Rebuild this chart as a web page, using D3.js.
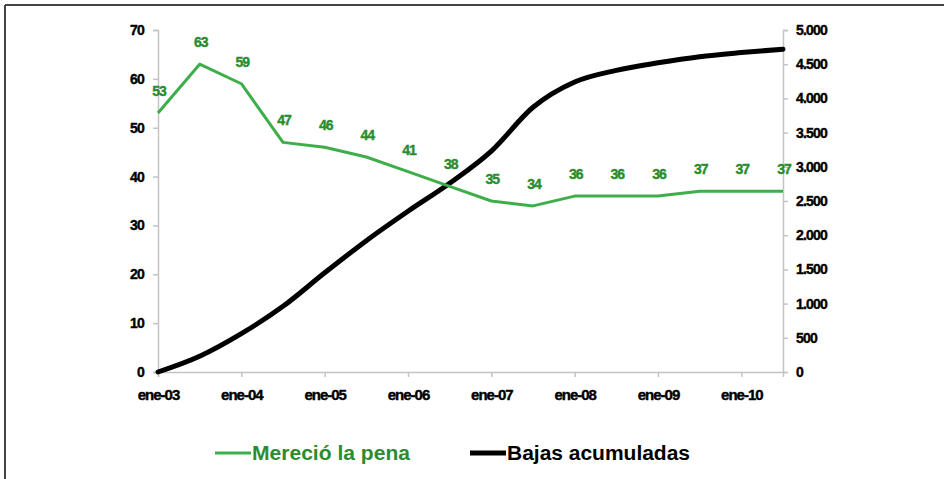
<!DOCTYPE html>
<html>
<head>
<meta charset="utf-8">
<script src="https://cdn.jsdelivr.net/npm/d3@7"></script>
<style>
  body { margin: 0; background: #fff; }
  #chart { width: 944px; height: 479px; }
  text { font-family: "Liberation Sans", Arial, sans-serif; font-weight: bold; }
</style>
</head>
<body>
<div id="chart"></div>
<script>
// half-yearly periods, ene-03 .. jul-10
const periods = ["ene-03", "jul-03", "ene-04", "jul-04", "ene-05", "jul-05", "ene-06", "jul-06",
  "ene-07", "jul-07", "ene-08", "jul-08", "ene-09", "jul-09", "ene-10", "jul-10"];
const merecio = [53, 63, 59, 47, 46, 44, 41, 38, 35, 34, 36, 36, 36, 37, 37, 37];
const bajas = [0, 230, 560, 960, 1450, 1920, 2350, 2760, 3230, 3870, 4240, 4410, 4520, 4610, 4670, 4720];
const leftTicks = [0, 10, 20, 30, 40, 50, 60, 70];
const rightTicks = [0, 500, 1000, 1500, 2000, 2500, 3000, 3500, 4000, 4500, 5000];
const legendLabels = ["Mereció la pena", "Bajas acumuladas"];

const width = 944, height = 479;
const margin = { left: 158, right: 161, top: 30, bottom: 107 };
const green = "#3dae49", greenText = "#2b8c2f", axisGrey = "#c4c4c4";

const svg = d3.select("#chart").append("svg")
  .attr("width", width).attr("height", height);

// frame (top + left only)
svg.append("line").attr("x1", 5).attr("x2", width).attr("y1", 5).attr("y2", 5)
  .attr("stroke", "#444").attr("stroke-width", 2);
svg.append("line").attr("x1", 5).attr("x2", 5).attr("y1", 5).attr("y2", height)
  .attr("stroke", "#444").attr("stroke-width", 2);

const x = d3.scaleLinear().domain([0, periods.length - 1])
  .range([margin.left, width - margin.right]);
const yL = d3.scaleLinear().domain([0, 70]).range([height - margin.bottom, margin.top]);
const yR = d3.scaleLinear().domain([0, 5000]).range([height - margin.bottom, margin.top]);

const fmtR = d => d3.format(",")(d).replace(/,/g, ".");

// left axis
const gL = svg.append("g").attr("transform", `translate(${margin.left},0)`)
  .call(d3.axisLeft(yL).tickValues(leftTicks).tickSize(5).tickPadding(9));
// right axis
const gR = svg.append("g").attr("transform", `translate(${width - margin.right},0)`)
  .call(d3.axisRight(yR).tickValues(rightTicks).tickSize(5).tickPadding(8).tickFormat(fmtR));
// x axis: labels on the "ene" periods
const xTicks = d3.range(0, periods.length, 2);
const gX = svg.append("g").attr("transform", `translate(0,${height - margin.bottom})`)
  .call(d3.axisBottom(x).tickValues(xTicks).tickSize(5).tickPadding(12)
    .tickFormat(i => periods[i]));

[gL, gR, gX].forEach(g => {
  g.select(".domain").attr("stroke", axisGrey).attr("stroke-width", 1.5);
  g.selectAll(".tick line").attr("stroke", axisGrey).attr("stroke-width", 1.5);
  g.selectAll(".tick text").attr("fill", "#000").style("font-size", "14px")
    .style("letter-spacing", "-0.8px").attr("stroke", "#000").attr("stroke-width", 0.4);
});
gX.selectAll(".tick text").style("font-size", "15px").style("letter-spacing", "-1px");

// bajas acumuladas (right axis)
const lineR = d3.line().x((d, i) => x(i)).y(d => yR(d)).curve(d3.curveMonotoneX);
svg.append("path").datum(bajas).attr("d", lineR)
  .attr("fill", "none").attr("stroke", "#000").attr("stroke-width", 5)
  .attr("stroke-linejoin", "round").attr("stroke-linecap", "round");

// mereció la pena (left axis)
const lineL = d3.line().x((d, i) => x(i)).y(d => yL(d));
svg.append("path").datum(merecio).attr("d", lineL)
  .attr("fill", "none").attr("stroke", green).attr("stroke-width", 3)
  .attr("stroke-linejoin", "round");

svg.append("g").selectAll("text").data(merecio).join("text")
  .attr("x", (d, i) => x(i) + 1)
  .attr("y", d => yL(d) - 17)
  .attr("text-anchor", "middle")
  .attr("fill", greenText)
  .attr("stroke", greenText).attr("stroke-width", 0.4)
  .style("font-size", "14px")
  .style("letter-spacing", "-1px")
  .text(d => d);

// legend
const legend = svg.append("g").attr("transform", "translate(0,453)");
const items = [
  { x: 215, color: green, sw: 3, text: legendLabels[0], tc: greenText, len: 158 },
  { x: 470, color: "#000", sw: 5, text: legendLabels[1], tc: "#000", len: 183 }
];
items.forEach(it => {
  legend.append("line").attr("x1", it.x).attr("x2", it.x + 36)
    .attr("y1", 0).attr("y2", 0).attr("stroke", it.color).attr("stroke-width", it.sw);
  legend.append("text").attr("x", it.x + 37).attr("y", 7)
    .attr("fill", it.tc).style("font-size", "20px")
    .attr("textLength", it.len).attr("lengthAdjust", "spacingAndGlyphs")
    .text(it.text);
});
</script>
</body>
</html>
